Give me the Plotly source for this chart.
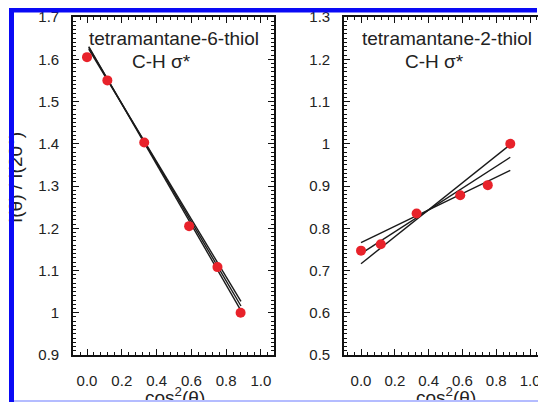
import plotly.graph_objects as go

# ---- data ----
cos2_theta = [0.0, 0.117, 0.329, 0.587, 0.750, 0.883]
ratio_6_thiol = [1.605, 1.550, 1.403, 1.205, 1.108, 1.000]
ratio_2_thiol = [0.747, 0.762, 0.835, 0.878, 0.902, 1.000]

fit_x_6 = [0.01, 0.885]
fit_6_a = [1.630, 1.005]
fit_6_b = [1.628, 1.016]
fit_6_c = [1.624, 1.027]

fit_x_2 = [0.0, 0.883]
fit_2_a = [0.716, 0.998]
fit_2_b = [0.740, 0.968]
fit_2_c = [0.766, 0.937]

y6_ticks = [0.9, 1.0, 1.1, 1.2, 1.3, 1.4, 1.5, 1.6, 1.7]
y6_text = ["0.9", "1", "1.1", "1.2", "1.3", "1.4", "1.5", "1.6", "1.7"]
y2_ticks = [0.5, 0.6, 0.7, 0.8, 0.9, 1.0, 1.1, 1.2, 1.3]
y2_text = ["0.5", "0.6", "0.7", "0.8", "0.9", "1", "1.1", "1.2", "1.3"]

title_6 = "tetramantane-6-thiol"
title_2 = "tetramantane-2-thiol"
subtitle = "C-H σ*"
ylabel = "I(θ) / I(20°)"
xlabel = "cos<sup>2</sup>(θ)"

W, H = 538, 402
FONT = "Liberation Sans, Arial, Helvetica, sans-serif"
RED = "#e8222a"
LINE = "#1a1a1a"
BLUE = "#0a0af5"

def px(x):
    return x / W

def py(y):
    return 1 - y / H

fig = go.Figure()

for fy in (fit_6_a, fit_6_b, fit_6_c):
    fig.add_trace(go.Scatter(x=fit_x_6, y=fy, mode="lines",
                             line=dict(color=LINE, width=1.4),
                             xaxis="x", yaxis="y", showlegend=False))
fig.add_trace(go.Scatter(x=cos2_theta, y=ratio_6_thiol, mode="markers",
                         marker=dict(color=RED, size=10),
                         xaxis="x", yaxis="y", showlegend=False))

for fy in (fit_2_a, fit_2_b, fit_2_c):
    fig.add_trace(go.Scatter(x=fit_x_2, y=fy, mode="lines",
                             line=dict(color=LINE, width=1.4),
                             xaxis="x2", yaxis="y2", showlegend=False))
fig.add_trace(go.Scatter(x=cos2_theta, y=ratio_2_thiol, mode="markers",
                         marker=dict(color=RED, size=10),
                         xaxis="x2", yaxis="y2", showlegend=False))

ydom = [py(355), py(17)]
tickfont = dict(family=FONT, size=15, color="#222")

common_x = dict(tickmode="linear", dtick=0.2, tick0=0, tickformat=".1f",
                ticks="inside", ticklen=6, tickwidth=1.4, tickcolor="#111",
                showline=True, linecolor="#111", linewidth=1.6, mirror="ticks",
                showgrid=False, zeroline=False, automargin=False,
                tickfont=tickfont, ticklabelstandoff=11, ticklabeloverflow="allow",
                minor=dict(dtick=0.04, ticks="inside", ticklen=3,
                           tickcolor="#111", tickwidth=1, showgrid=False))
common_y = dict(ticks="inside", ticklen=6, tickwidth=1.4, tickcolor="#111",
                showline=True, linecolor="#111", linewidth=1.6,
                showgrid=False, zeroline=False, automargin=False, tickfont=tickfont,
                ticklabelstandoff=9, ticklabeloverflow="allow",
                minor=dict(tickmode="linear", tick0=0, dtick=0.01, ticks="inside",
                           ticklen=3, tickcolor="#111", tickwidth=1, showgrid=False))

fig.update_layout(
    width=W, height=H,
    margin=dict(l=0, r=0, t=0, b=0, pad=0, autoexpand=False),
    paper_bgcolor="white", plot_bgcolor="white",
    showlegend=False,
    xaxis=dict(domain=[px(73), px(274)], range=[-0.0805, 1.075],
               anchor="y", **common_x),
    yaxis=dict(domain=ydom, range=[0.9, 1.7], anchor="x", tickmode="array",
               tickvals=y6_ticks, ticktext=y6_text, mirror="ticks", **common_y),
    xaxis2=dict(domain=[px(344), 1.0], range=[-0.1006, 1.047],
                anchor="y2", **common_x),
    yaxis2=dict(domain=ydom, range=[0.5, 1.3], anchor="x2", tickmode="array",
                tickvals=y2_ticks, ticktext=y2_text, mirror=False, **common_y),
    font=dict(family=FONT, color="#222"),
)

# in-panel titles
for cx, t in ((174, title_6), (447, title_2)):
    fig.add_annotation(x=px(cx), y=py(39), xref="paper", yref="paper",
                       text=t, showarrow=False, xanchor="center", yanchor="middle",
                       font=dict(family=FONT, size=19, color="#222"))
for cx in (161, 434):
    fig.add_annotation(x=px(cx), y=py(61), xref="paper", yref="paper",
                       text=subtitle, showarrow=False, xanchor="center", yanchor="middle",
                       font=dict(family=FONT, size=19, color="#222"))

# axis labels
fig.add_annotation(x=px(15), y=py(178), xref="paper", yref="paper",
                   text=ylabel, textangle=-90, showarrow=False,
                   xanchor="center", yanchor="middle",
                   font=dict(family=FONT, size=19, color="#222"))
for cx in (175, 446):
    fig.add_annotation(x=px(cx), y=py(396), xref="paper", yref="paper",
                       text=xlabel, showarrow=False,
                       xanchor="center", yanchor="middle",
                       font=dict(family=FONT, size=19, color="#222"))

# blue frame of the reference picture
fig.add_shape(type="rect", xref="paper", yref="paper", layer="above",
              x0=px(9), x1=px(537), y0=py(12.5), y1=py(8),
              line=dict(width=0), fillcolor=BLUE)

# left and bottom bars as annotation boxes, drawn on top of the axis labels
def bar(cx, cy, w, h, color):
    fig.add_annotation(x=px(cx), y=py(cy), xref="paper", yref="paper",
                       text=" ", showarrow=False, xanchor="center", yanchor="middle",
                       width=w, height=h, bgcolor=color, borderpad=0,
                       borderwidth=0, font=dict(size=1))

bar(11.5, 205, 5, 394, BLUE)
bar(276, 401, 524, 2, "#b4bcff")

fig.write_html("out.html", config={"displayModeBar": False})
